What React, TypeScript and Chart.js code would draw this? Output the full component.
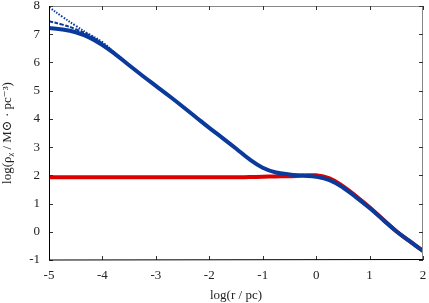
import React, { useEffect, useRef } from "react";
import { Chart, registerables } from "chart.js";

Chart.register(...registerables);

const logR = [-5, -4.75, -4.5, -4.25, -4, -3.75, -3.5, -3.25, -3, -2.75, -2.5, -2.25, -2, -1.75, -1.5, -1.25, -1, -0.75, -0.5, -0.25, 0, 0.25, 0.5, 0.75, 1, 1.25, 1.5, 1.75, 2];
const blueSolid = [7.22, 7.17, 7.07, 6.89, 6.62, 6.28, 5.9, 5.53, 5.17, 4.81, 4.44, 4.06, 3.68, 3.32, 2.95, 2.57, 2.27, 2.1, 2.03, 1.99, 1.95, 1.83, 1.57, 1.22, 0.84, 0.43, 0.02, -0.33, -0.68];
const redSolid = [1.93, 1.93, 1.93, 1.93, 1.93, 1.93, 1.93, 1.93, 1.93, 1.93, 1.93, 1.93, 1.93, 1.93, 1.93, 1.94, 1.95, 1.96, 1.97, 1.99, 2.0, 1.89, 1.62, 1.26, 0.87, 0.44, 0.02, -0.33, -0.68];
const logRInner = [-5, -4.75, -4.5, -4.25, -4, -3.75, -3.5];
const blueDashDot = [7.46, 7.34, 7.18, 6.97, 6.67, 6.3, 5.9];
const blueDotted = [7.96, 7.62, 7.3, 7.0, 6.72, 6.31, 5.91];
const xTicks = [-5, -4, -3, -2, -1, 0, 1, 2];
const yTicks = [-1, 0, 1, 2, 3, 4, 5, 6, 7, 8];

const BLUE = "#0a3a9c";
const RED = "#dd0000";
const FONT = "'Liberation Serif', 'DejaVu Serif', serif";

const pts = (xs: number[], ys: number[]) => xs.map((x, i) => ({ x, y: ys[i] }));

const frame = {
  id: "frame",
  afterDatasetsDraw(chart: any) {
    const { ctx, chartArea: a, scales } = chart;
    ctx.save();
    ctx.lineWidth = 1;
    ctx.strokeStyle = "#888888";
    ctx.beginPath();
    ctx.moveTo(a.left, a.top + 0.5);
    ctx.lineTo(a.right, a.top + 0.5);
    ctx.moveTo(a.right - 0.5, a.top);
    ctx.lineTo(a.right - 0.5, a.bottom);
    ctx.stroke();
    const L = 4;
    ctx.strokeStyle = "#333333";
    ctx.beginPath();
    xTicks.forEach((v) => {
      const px = Math.round(scales.x.getPixelForValue(v)) + 0.5;
      ctx.moveTo(px, a.bottom);
      ctx.lineTo(px, a.bottom - L);
      ctx.moveTo(px, a.top);
      ctx.lineTo(px, a.top + L);
    });
    yTicks.forEach((v) => {
      const py = Math.round(scales.y.getPixelForValue(v)) + 0.5;
      ctx.moveTo(a.left, py);
      ctx.lineTo(a.left + L, py);
      ctx.moveTo(a.right, py);
      ctx.lineTo(a.right - L, py);
    });
    ctx.stroke();
    ctx.strokeStyle = "#000000";
    ctx.beginPath();
    ctx.moveTo(a.left + 0.5, a.top);
    ctx.lineTo(a.left + 0.5, a.bottom);
    ctx.lineTo(a.right, a.bottom - 0.5);
    ctx.stroke();
    ctx.restore();
  },
};

export default function App() {
  const ref = useRef<HTMLCanvasElement>(null);
  useEffect(() => {
    const chart = new Chart(ref.current as HTMLCanvasElement, {
      type: "line",
      data: {
        datasets: [
          {
            data: pts(logR, blueSolid),
            borderColor: BLUE,
            borderWidth: 4,
            pointRadius: 0,
            tension: 0.4,
            order: 0,
          },
          {
            data: pts(logRInner, blueDashDot),
            borderColor: BLUE,
            borderWidth: 2,
            borderDash: [4, 1.5],
            pointRadius: 0,
            tension: 0.4,
            order: 1,
          },
          {
            data: pts(logRInner, blueDotted),
            borderColor: BLUE,
            borderWidth: 2,
            borderDash: [1.5, 1.5],
            pointRadius: 0,
            tension: 0.4,
            order: 2,
          },
          {
            data: pts(logR, redSolid),
            borderColor: RED,
            borderWidth: 4,
            pointRadius: 0,
            tension: 0.4,
            order: 3,
          },
        ],
      },
      options: {
        animation: false,
        responsive: false,
        maintainAspectRatio: false,
        layout: { padding: { top: 6, right: 6, left: 0, bottom: 0 } },
        plugins: { legend: { display: false }, tooltip: { enabled: false } },
        scales: {
          x: {
            type: "linear",
            min: -5,
            max: 2,
            afterBuildTicks: (s: any) => {
              s.ticks = xTicks.map((v) => ({ value: v }));
            },
            afterFit: (s: any) => {
              s.height = 43;
              s.paddingLeft = 0;
              s.paddingRight = 0;
            },
            grid: { display: false, drawTicks: false },
            border: { display: false },
            ticks: {
              color: "#222",
              padding: 8,
              maxRotation: 0,
              font: { family: FONT, size: 13 },
              callback: (v: any) => String(v),
            },
            title: {
              display: true,
              text: "log(r / pc)",
              color: "#222",
              font: { family: FONT, size: 13 },
              padding: { top: 0, bottom: 0 },
            },
          },
          y: {
            type: "linear",
            min: -1,
            max: 8,
            afterBuildTicks: (s: any) => {
              s.ticks = yTicks.map((v) => ({ value: v }));
            },
            afterFit: (s: any) => {
              s.width = 49;
              s.paddingTop = 0;
              s.paddingBottom = 0;
            },
            grid: { display: false, drawTicks: false },
            border: { display: false },
            ticks: {
              color: "#222",
              padding: 9,
              font: { family: FONT, size: 13 },
              callback: (v: any) => String(v),
            },
            title: {
              display: true,
              text: "log(ρᵪ / M⊙ · pc⁻³)",
              color: "#222",
              font: { family: FONT, size: 13 },
              padding: { top: 0, bottom: 4 },
            },
          },
        },
      },
      plugins: [frame],
    } as any);
    return () => chart.destroy();
  }, []);
  return (
    <div style={{ position: "fixed", left: 0, top: 0, width: 429, height: 303, background: "#fff" }}>
      <canvas ref={ref} width={429} height={303} style={{ display: "block" }} />
    </div>
  );
}
